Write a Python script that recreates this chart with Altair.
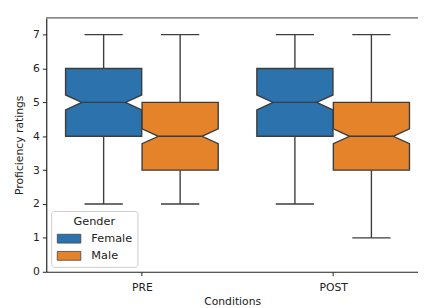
import altair as alt
import pandas as pd
import json

conditions = ["PRE", "POST"]
genders = ["Female", "Male"]
colors = ["#2c72ad", "#e5832b"]

# box order: PRE-Female, PRE-Male, POST-Female, POST-Male
box_cond = [0, 0, 1, 1]
box_gender = [0, 1, 0, 1]
whislo = [2, 2, 2, 1]
q1 = [4, 3, 4, 3]
med = [5, 4, 5, 4]
q3 = [6, 5, 6, 5]
whishi = [7, 7, 7, 7]
notch_lo = [4.78, 3.78, 4.78, 3.78]
notch_hi = [5.22, 4.22, 5.22, 4.22]

dodge = [-0.2, 0.2]
half_w = 0.199
inset = 0.085
cap_hw = 0.1

poly_rows, stat_rows = [], []
for b in range(len(q1)):
    pos = box_cond[b] + dodge[box_gender[b]]
    g = genders[box_gender[b]]
    L, R = pos - half_w, pos + half_w
    for k, (yy, l, r) in enumerate([
        (q1[b], L, R), (notch_lo[b], L, R), (med[b], L + inset, R - inset),
        (notch_hi[b], L, R), (q3[b], L, R)]):
        poly_rows.append(dict(box=b, gender=g, y=yy, xl=l, xr=r, k=k))
    stat_rows.append(dict(box=b, gender=g, pos=pos, q1=q1[b], q3=q3[b], med=med[b],
                          lo=whislo[b], hi=whishi[b],
                          ml=L + inset, mr=R - inset,
                          cl=pos - cap_hw, cr=pos + cap_hw))
poly = pd.DataFrame(poly_rows)
stats = pd.DataFrame(stat_rows)

W, H = 379, 259
xscale = alt.Scale(domain=[-0.5, 1.4436], nice=False, zero=False)
yscale = alt.Scale(domain=[0, 7.5], nice=False, zero=False)
line_col = "#3d3d3d"

xaxis = alt.Axis(values=[0, 1], labelExpr=json.dumps(conditions) + "[datum.value]",
                 title="Conditions", grid=False, tickSize=4, labelPadding=6,
                 titlePadding=3, domainColor="#222", tickColor="#222")
yaxis = alt.Axis(values=list(range(8)), title="Proficiency ratings", grid=False,
                 tickSize=4, labelPadding=3, titlePadding=8,
                 domainColor="#222", tickColor="#222", format="d")

boxes = alt.Chart(poly).mark_area(orient="horizontal", stroke=line_col,
                                  strokeWidth=1.4, opacity=1).encode(
    y=alt.Y("y:Q", scale=yscale, axis=yaxis),
    x=alt.X("xl:Q", scale=xscale, axis=xaxis, stack=None),
    x2="xr:Q",
    detail="box:N",
    fill=alt.Fill("gender:N", scale=alt.Scale(domain=genders, range=colors),
                  legend=alt.Legend(title="Gender", orient="none", legendX=5, legendY=197,
                                    symbolType="M-2.667,-1H2.667V1H-2.667Z",
                                    symbolSize=81, symbolStrokeColor="#444",
                                    symbolStrokeWidth=0.8, symbolOpacity=1,
                                    symbolOffset=7.5, labelOffset=17,
                                    titleAnchor="middle", titleFontWeight="normal",
                                    titleFontSize=11.5, labelFontSize=11.5,
                                    titleColor="#222", labelColor="#222",
                                    titlePadding=6, rowPadding=4.5,
                                    strokeColor="#cccccc", fillColor="white",
                                    cornerRadius=3, padding=5)),
)

base = alt.Chart(stats)
whisk_hi = base.mark_rule(color=line_col, strokeWidth=1.4).encode(
    x=alt.X("pos:Q", scale=xscale, axis=xaxis), y=alt.Y("q3:Q", scale=yscale, axis=yaxis), y2="hi:Q")
whisk_lo = base.mark_rule(color=line_col, strokeWidth=1.4).encode(
    x=alt.X("pos:Q", scale=xscale, axis=xaxis), y=alt.Y("q1:Q", scale=yscale, axis=yaxis), y2="lo:Q")
cap_hi = base.mark_rule(color=line_col, strokeWidth=1.4).encode(
    x=alt.X("cl:Q", scale=xscale, axis=xaxis), x2="cr:Q", y=alt.Y("hi:Q", scale=yscale, axis=yaxis))
cap_lo = base.mark_rule(color=line_col, strokeWidth=1.4).encode(
    x=alt.X("cl:Q", scale=xscale, axis=xaxis), x2="cr:Q", y=alt.Y("lo:Q", scale=yscale, axis=yaxis))
medians = base.mark_rule(color=line_col, strokeWidth=1.4).encode(
    x=alt.X("ml:Q", scale=xscale, axis=xaxis), x2="mr:Q", y=alt.Y("med:Q", scale=yscale, axis=yaxis))
top_spine = alt.Chart(stats).mark_rule(color="#888", strokeWidth=1.2).encode(
    x=alt.value(0), x2=alt.value(W), y=alt.value(0))

chart = alt.layer(whisk_hi, whisk_lo, cap_hi, cap_lo, boxes, medians, top_spine).properties(
    width=W, height=H,
    autosize=alt.AutoSizeParams(type="none"),
    padding={"left": 39, "top": 7, "right": 0, "bottom": 34},
).configure(font="DejaVu Sans").configure_view(stroke=None).configure_axis(
    labelFontSize=11, titleFontSize=11, labelColor="#222", titleColor="#222",
    titleFontWeight="normal", domainWidth=1.2)

chart.save("out.html", embed_options={"renderer": "svg", "actions": False})
